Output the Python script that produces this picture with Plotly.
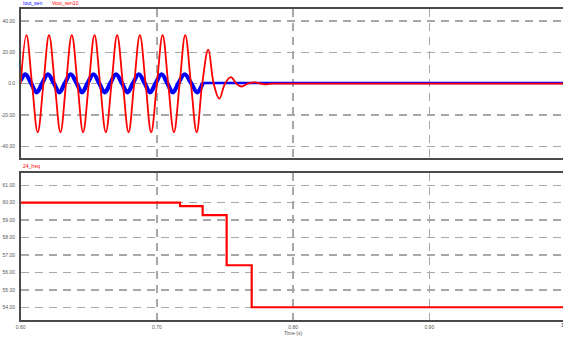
import plotly.graph_objects as go

# ---------------- data ----------------
# Vout_sen10 : key points (zero crossings / peaks / troughs)
vout_t = [0.6000, 0.6042, 0.6083, 0.6125, 0.6167, 0.6208, 0.6250, 0.6292,
          0.6333, 0.6375, 0.6417, 0.6458, 0.6500, 0.6542, 0.6583, 0.6625,
          0.6667, 0.6708, 0.6750, 0.6792, 0.6833, 0.6875, 0.6917, 0.6958,
          0.7000, 0.7042, 0.7083, 0.7125, 0.7167, 0.7208, 0.7250, 0.7292,
          0.7333, 0.7377, 0.7417, 0.7458, 0.7500, 0.7544, 0.7583, 0.7623,
          0.7667, 0.7721, 0.7765, 0.7807, 0.7850, 0.7900, 1.0000]
vout_v = [0, 31, 0, -31, 0, 31, 0, -31,
          0, 31, 0, -31, 0, 31, 0, -31,
          0, 31, 0, -31, 0, 31, 0, -31,
          0, 31, 0, -31, 0, 31, 0, -31,
          0, 21.7, 0, -9.5, 0, 4.2, 0, -1.8,
          0, 0.8, 0, -0.4, 0, 0, 0]

# Iout_sen : key points (ripple band while switching, then settled)
iout_t = [0.6000, 0.6034, 0.6075, 0.6117, 0.6159, 0.6200, 0.6242, 0.6284,
          0.6325, 0.6367, 0.6409, 0.6450, 0.6492, 0.6534, 0.6575, 0.6617,
          0.6659, 0.6700, 0.6742, 0.6784, 0.6825, 0.6867, 0.6909, 0.6950,
          0.6992, 0.7034, 0.7075, 0.7117, 0.7159, 0.7204, 0.7250, 0.7296,
          0.7337, 0.7370, 1.0000]
iout_v = [2.0, 6.0, 0.5, -5.5, 0.5, 6.0, 0.5, -5.5,
          0.5, 6.0, 0.5, -5.5, 0.5, 6.0, 0.5, -5.5,
          0.5, 6.0, 0.5, -5.5, 0.5, 6.0, 0.5, -5.5,
          0.5, 6.0, 0.5, -5.5, 0.5, 6.0, 0.5, -5.5,
          0.4, 0.4, 0.4]
iout_settle_index = 32   # index where the current has settled

# 24_freq : step changes
freq_t = [0.6000, 0.7170, 0.7336, 0.7512, 0.7696, 1.0000]
freq_v = [60.0, 59.8, 59.28, 56.41, 54.0, 54.0]

x_ticks = [0.6, 0.7, 0.8, 0.9]
x_labels = ["0.60", "0.70", "0.80", "0.90"]
top_ticks = [-40, -20, 0, 20, 40]
top_labels = ["-40.00", "-20.00", "0.0", "20.00", "40.00"]
bot_ticks = [54, 55, 56, 57, 58, 59, 60, 61]
bot_labels = ["54.00", "55.00", "56.00", "57.00", "58.00", "59.00", "60.00", "61.00"]

# ---------------- figure ----------------
W, H = 563, 337
FONT = "Liberation Sans, Arial, sans-serif"
GRID = "#a8a8a8"
FRAME = "#4a4a4a"
TICKC = "#555555"

k = iout_settle_index
fig = go.Figure()
fig.add_trace(go.Scatter(x=iout_t[:k + 1], y=iout_v[:k + 1], mode="lines", xaxis="x", yaxis="y",
                         line=dict(color="#0000ff", width=4.2, shape="spline", smoothing=1.1),
                         showlegend=False, hoverinfo="skip"))
fig.add_trace(go.Scatter(x=iout_t[k:], y=iout_v[k:], mode="lines", xaxis="x", yaxis="y",
                         line=dict(color="#0000ff", width=2.6),
                         showlegend=False, hoverinfo="skip"))
fig.add_trace(go.Scatter(x=vout_t, y=vout_v, mode="lines", xaxis="x", yaxis="y",
                         line=dict(color="#ff0000", width=1.8, shape="spline", smoothing=1.1),
                         showlegend=False, hoverinfo="skip"))
fig.add_trace(go.Scatter(x=freq_t, y=freq_v, mode="lines", xaxis="x2", yaxis="y2",
                         line=dict(color="#ff0000", width=2.2, shape="hv"),
                         showlegend=False, hoverinfo="skip"))

x0 = 20.7
px_per_unit = 1362.0
xmax = 0.6 + (W - x0) / px_per_unit
xdom = [x0 / W, 1.0]
top_dom = [1 - 158 / H, 1 - 9 / H]
bot_dom = [1 - 320 / H, 1 - 173 / H]

common_x = dict(range=[0.6, xmax], domain=xdom, tickvals=x_ticks, ticktext=x_labels,
                showgrid=True, gridcolor=GRID, gridwidth=1.4, griddash="8px,6px",
                showline=True, linecolor=FRAME, linewidth=1.6, mirror=True,
                zeroline=False, ticks="", automargin=False,
                tickfont=dict(family=FONT, size=5, color=TICKC))
fig.update_layout(
    width=W, height=H, margin=dict(l=0, r=0, t=0, b=0),
    paper_bgcolor="white", plot_bgcolor="white", showlegend=False,
    xaxis=dict(common_x, anchor="y", showticklabels=False),
    xaxis2=dict(common_x, anchor="y2", showticklabels=True, ticklabelstandoff=1),
    yaxis=dict(range=[-47.4, 47.6], domain=top_dom, anchor="x",
               tickvals=top_ticks, ticktext=top_labels,
               showgrid=True, gridcolor=GRID, gridwidth=1.4, griddash="8px,6px",
               showline=True, linecolor=FRAME, linewidth=1.6, mirror=False,
               zeroline=False, ticks="", automargin=False, ticklabelstandoff=3,
               tickfont=dict(family=FONT, size=5, color=TICKC)),
    yaxis2=dict(range=[53.27, 61.7], domain=bot_dom, anchor="x2",
                tickvals=bot_ticks, ticktext=bot_labels,
                showgrid=True, gridcolor=GRID, gridwidth=1.4, griddash="8px,6px",
                showline=True, linecolor=FRAME, linewidth=1.6, mirror=False,
                zeroline=False, ticks="", automargin=False, ticklabelstandoff=3,
                tickfont=dict(family=FONT, size=5, color=TICKC)),
)

def ann(text, xpx, ypx, color, xanchor="left", size=5):
    fig.add_annotation(text=text, xref="paper", yref="paper",
                       x=xpx / W, y=1 - ypx / H, xanchor=xanchor, yanchor="middle",
                       showarrow=False, font=dict(family=FONT, size=size, color=color))

ann("Iout_sen", 21, 3.5, "#0000ff")
ann("Vout_sen10", 50, 3.5, "#ff0000")
ann("24_freq", 21, 166, "#ff0000")
ann("Time (s)", 293, 332.6, TICKC, xanchor="center")
ann("1.00", x0 + 4 * 136.2, 325.2, TICKC, xanchor="center")

fig.write_html("out.html", config={"displayModeBar": False, "staticPlot": True})

# remove the browser's default page margin so the figure fills the window
with open("out.html", "r", encoding="utf-8") as f:
    html = f.read()
html = html.replace("<head>", "<head><style>html,body{margin:0;padding:0;overflow:hidden;}</style>", 1)
with open("out.html", "w", encoding="utf-8") as f:
    f.write(html)
